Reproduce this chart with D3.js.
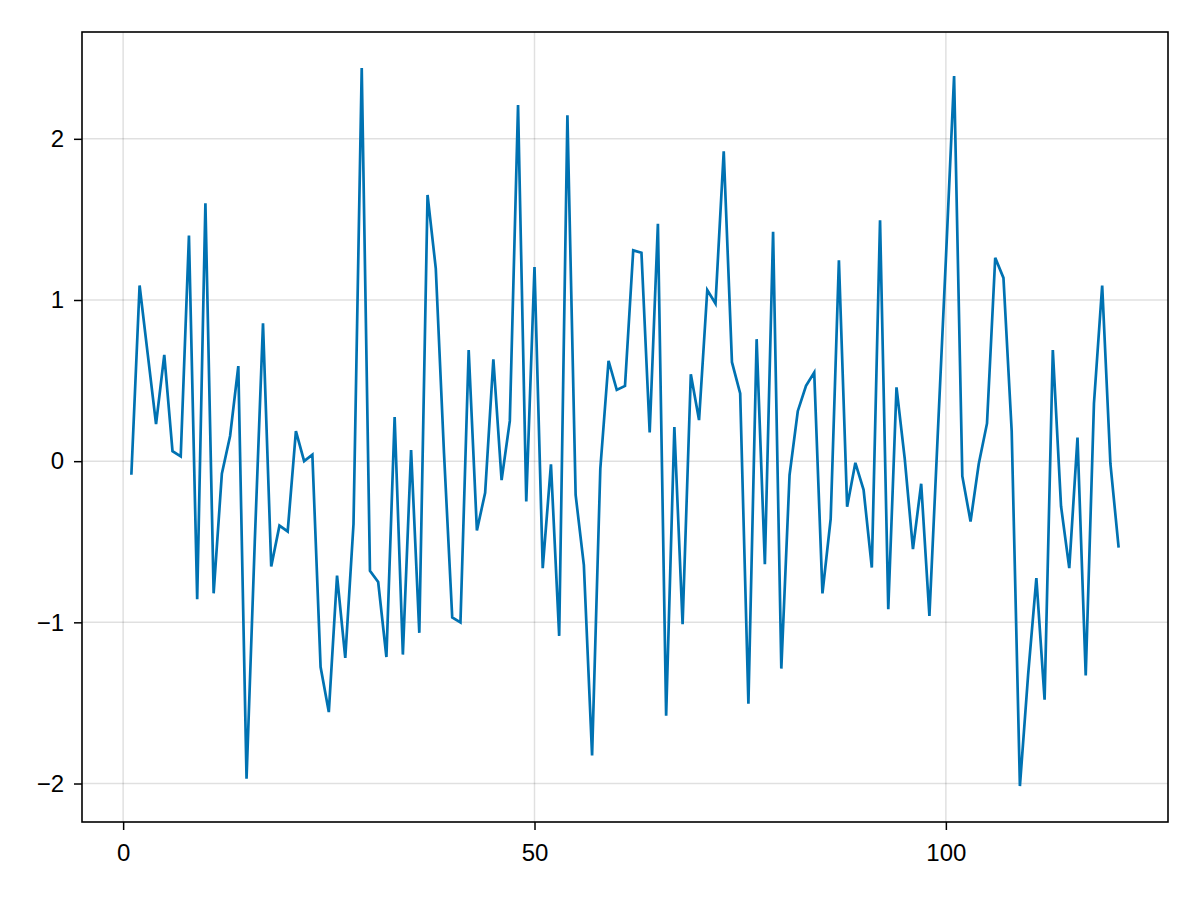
<!DOCTYPE html>
<html>
<head>
<meta charset="utf-8">
<script src="https://cdn.jsdelivr.net/npm/d3@7"></script>
<style>
  html, body { margin: 0; padding: 0; background: #fff; }
  svg { display: block; }
  text { font-family: "Liberation Sans", Arial, sans-serif; }
</style>
</head>
<body>
<script>
const xValues = d3.range(1, 122);
const yValues = [
  -0.084, 1.09, 0.66, 0.23, 0.66, 0.062, 0.03, 1.40, -0.857, 1.60,
  -0.82, -0.078, 0.156, 0.59, -1.97, -0.5, 0.855, -0.654, -0.40, -0.436,
  0.187, 0.0, 0.04, -1.277, -1.557, -0.71, -1.22, -0.39, 2.44, -0.68,
  -0.75, -1.215, 0.274, -1.20, 0.069, -1.065, 1.652, 1.197, 0.05, -0.97,
  -1.0, 0.69, -0.43, -0.196, 0.632, -0.118, 0.25, 2.21, -0.25, 1.205,
  -0.664, -0.02, -1.084, 2.146, -0.21, -0.645, -1.826, -0.047, 0.623, 0.442,
  0.467, 1.308, 1.293, 0.178, 1.473, -1.58, 0.212, -1.012, 0.539, 0.255,
  1.062, 0.978, 1.922, 0.614, 0.42, -1.505, 0.757, -0.639, 1.424, -1.287,
  -0.087, 0.31, 0.467, 0.55, -0.82, -0.358, 1.246, -0.283, -0.01, -0.178,
  -0.66, 1.495, -0.919, 0.458, 0.016, -0.545, -0.14, -0.96, 0.15, 1.25,
  2.39, -0.093, -0.374, -0.016, 0.234, 1.262, 1.137, 0.187, -2.016, -1.324,
  -0.726, -1.48, 0.69, -0.28, -0.664, 0.146, -1.33, 0.358, 1.09, -0.016,
  -0.536
];
const xTicks = [0, 50, 100];
const yTicks = [-2, -1, 0, 1, 2];

const W = 1200, H = 900;
const plot = { left: 82, top: 32, right: 1168, bottom: 822 };

const svg = d3.select("body").append("svg").attr("width", W).attr("height", H);
svg.append("rect").attr("width", W).attr("height", H).attr("fill", "#fff");

// 5% autolimit padding like the original
const [xmin, xmax] = d3.extent(xValues);
const [ymin, ymax] = d3.extent(yValues);
const xpad = (xmax - xmin) * 0.05, ypad = (ymax - ymin) * 0.05;

const x = d3.scaleLinear().domain([xmin - xpad, xmax + xpad]).range([plot.left, plot.right]);
const y = d3.scaleLinear().domain([ymin - ypad, ymax + ypad]).range([plot.bottom, plot.top]);

// grid
const grid = svg.append("g");
grid.selectAll("line.gx").data(xTicks).join("line")
  .attr("x1", d => x(d)).attr("x2", d => x(d))
  .attr("y1", plot.top).attr("y2", plot.bottom)
  .attr("stroke", "rgba(0,0,0,0.12)").attr("stroke-width", 1.5);
grid.selectAll("line.gy").data(yTicks).join("line")
  .attr("y1", d => y(d)).attr("y2", d => y(d))
  .attr("x1", plot.left).attr("x2", plot.right)
  .attr("stroke", "rgba(0,0,0,0.12)").attr("stroke-width", 1.5);

// line
const data = xValues.map((xv, i) => [xv, yValues[i]]);
svg.append("path")
  .datum(data)
  .attr("fill", "none")
  .attr("stroke", "rgb(0,114,178)")
  .attr("stroke-width", 2.7)
  .attr("stroke-linejoin", "miter")
  .attr("d", d3.line().x(d => x(d[0])).y(d => y(d[1])));

// axes
const fmt = d => d < 0 ? "\u2212" + Math.abs(d) : String(d);
const xAxis = d3.axisBottom(x).tickValues(xTicks).tickSize(8).tickPadding(14).tickFormat(fmt);
const yAxis = d3.axisLeft(y).tickValues(yTicks).tickSize(8).tickPadding(10).tickFormat(fmt);

const gx = svg.append("g").attr("transform", `translate(0,${plot.bottom})`).call(xAxis);
const gy = svg.append("g").attr("transform", `translate(${plot.left},0)`).call(yAxis);
[gx, gy].forEach(g => {
  g.select(".domain").remove();
  g.selectAll(".tick line").attr("stroke", "#000").attr("stroke-width", 1.5);
  g.selectAll(".tick text").attr("fill", "#000").attr("font-size", 24)
    .attr("font-family", "'Liberation Sans', Arial, sans-serif");
});

// frame
svg.append("rect")
  .attr("x", plot.left).attr("y", plot.top)
  .attr("width", plot.right - plot.left).attr("height", plot.bottom - plot.top)
  .attr("fill", "none").attr("stroke", "#000").attr("stroke-width", 1.6);
</script>
</body>
</html>
